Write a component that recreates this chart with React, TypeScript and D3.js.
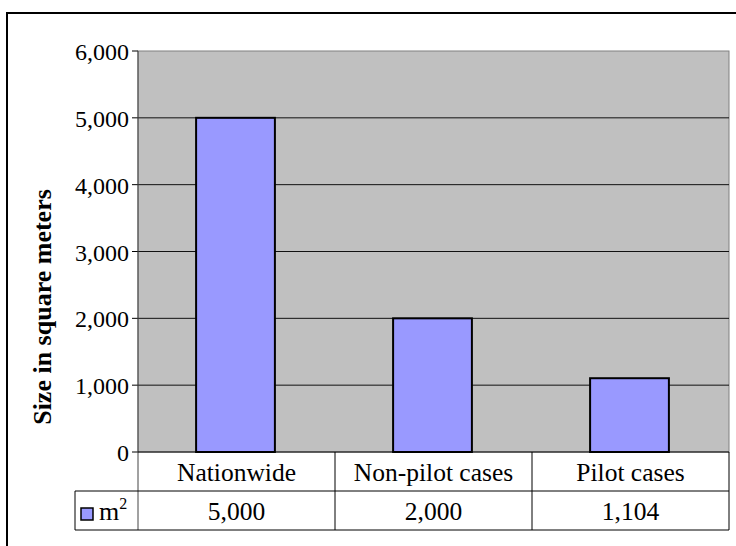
import React from "react";
import * as d3 from "d3";

const categories = ["Nationwide", "Non-pilot cases", "Pilot cases"];
const values = [5000, 2000, 1104];
const yTicks = [0, 1000, 2000, 3000, 4000, 5000, 6000];
const seriesName = "m";
const yTitle = "Size in square meters";

const W = 736;
const H = 546;
const plot = { left: 138, right: 729, top: 51, bottom: 452 };
const rowH = 39;
const legendLeft = 75;
const serif = "'Liberation Serif', 'Times New Roman', serif";

export default function App() {
  const x = d3
    .scaleBand<string>()
    .domain(categories)
    .range([plot.left, plot.right])
    .paddingInner(0)
    .paddingOuter(0);
  const y = d3.scaleLinear().domain([0, 6000]).range([plot.bottom, plot.top]);
  const fmt = d3.format(",");
  const barW = x.bandwidth() * 0.4;

  const row1Bottom = plot.bottom + rowH;
  const row2Bottom = row1Bottom + rowH;

  return (
    <svg
      width={W}
      height={H}
      style={{ position: "absolute", left: 0, top: 0, background: "#fff" }}
    >
      {/* outer frame */}
      <rect x={7} y={13} width={W} height={H} fill="none" stroke="#000" strokeWidth={2} />

      {/* plot background */}
      <rect
        x={plot.left}
        y={plot.top}
        width={plot.right - plot.left}
        height={plot.bottom - plot.top}
        fill="#c0c0c0"
        stroke="#808080"
        strokeWidth={1}
      />

      {/* gridlines and ticks */}
      {yTicks.map((t) => (
        <g key={t}>
          {t > 0 && t < 6000 && (
            <line x1={plot.left} x2={plot.right} y1={y(t)} y2={y(t)} stroke="#111" strokeWidth={1} />
          )}
          <line x1={plot.left - 6} x2={plot.left} y1={y(t)} y2={y(t)} stroke="#000" strokeWidth={1} />
          <text
            x={plot.left - 9}
            y={y(t) + 9}
            textAnchor="end"
            fontFamily={serif}
            fontSize={24}
            fill="#000"
          >
            {fmt(t)}
          </text>
        </g>
      ))}

      {/* bars */}
      {categories.map((c, i) => (
        <rect
          key={c}
          x={x(c)! + (x.bandwidth() - barW) / 2 - 1}
          y={y(values[i])}
          width={barW}
          height={plot.bottom - y(values[i])}
          fill="#9999ff"
          stroke="#000"
          strokeWidth={2}
        />
      ))}

      {/* axis lines */}
      <line x1={plot.left} x2={plot.left} y1={plot.top} y2={row2Bottom} stroke="#444" strokeWidth={1} />
      <line x1={plot.left} x2={plot.right} y1={plot.bottom} y2={plot.bottom} stroke="#000" strokeWidth={1} />

      {/* data table */}
      <g stroke="#000" strokeWidth={1} fill="none">
        <line x1={legendLeft} x2={plot.right} y1={row1Bottom} y2={row1Bottom} />
        <line x1={legendLeft} x2={plot.right} y1={row2Bottom} y2={row2Bottom} />
        <line x1={legendLeft} x2={legendLeft} y1={row1Bottom} y2={row2Bottom} />
        {categories.map((c) => (
          <line
            key={c}
            x1={x(c)! + x.bandwidth()}
            x2={x(c)! + x.bandwidth()}
            y1={plot.bottom}
            y2={row2Bottom}
          />
        ))}
      </g>

      {categories.map((c, i) => (
        <g key={c} fontFamily={serif} fontSize={25.5} fill="#000" textAnchor="middle">
          <text x={x(c)! + x.bandwidth() / 2} y={plot.bottom + 29}>
            {c}
          </text>
          <text x={x(c)! + x.bandwidth() / 2} y={row1Bottom + 29}>
            {fmt(values[i])}
          </text>
        </g>
      ))}

      {/* legend key */}
      <rect x={81} y={508} width={12} height={12} fill="#9999ff" stroke="#000" strokeWidth={1.5} />
      <text x={99} y={520} fontFamily={serif} fontSize={26} fill="#000">
        {seriesName}
        <tspan fontSize={16} dy={-11}>2</tspan>
      </text>

      {/* y axis title */}
      <text
        transform={`translate(51, 307) rotate(-90)`}
        textAnchor="middle"
        fontFamily={serif}
        fontWeight="bold"
        fontSize={26}
        fill="#000"
      >
        {yTitle}
      </text>
    </svg>
  );
}
